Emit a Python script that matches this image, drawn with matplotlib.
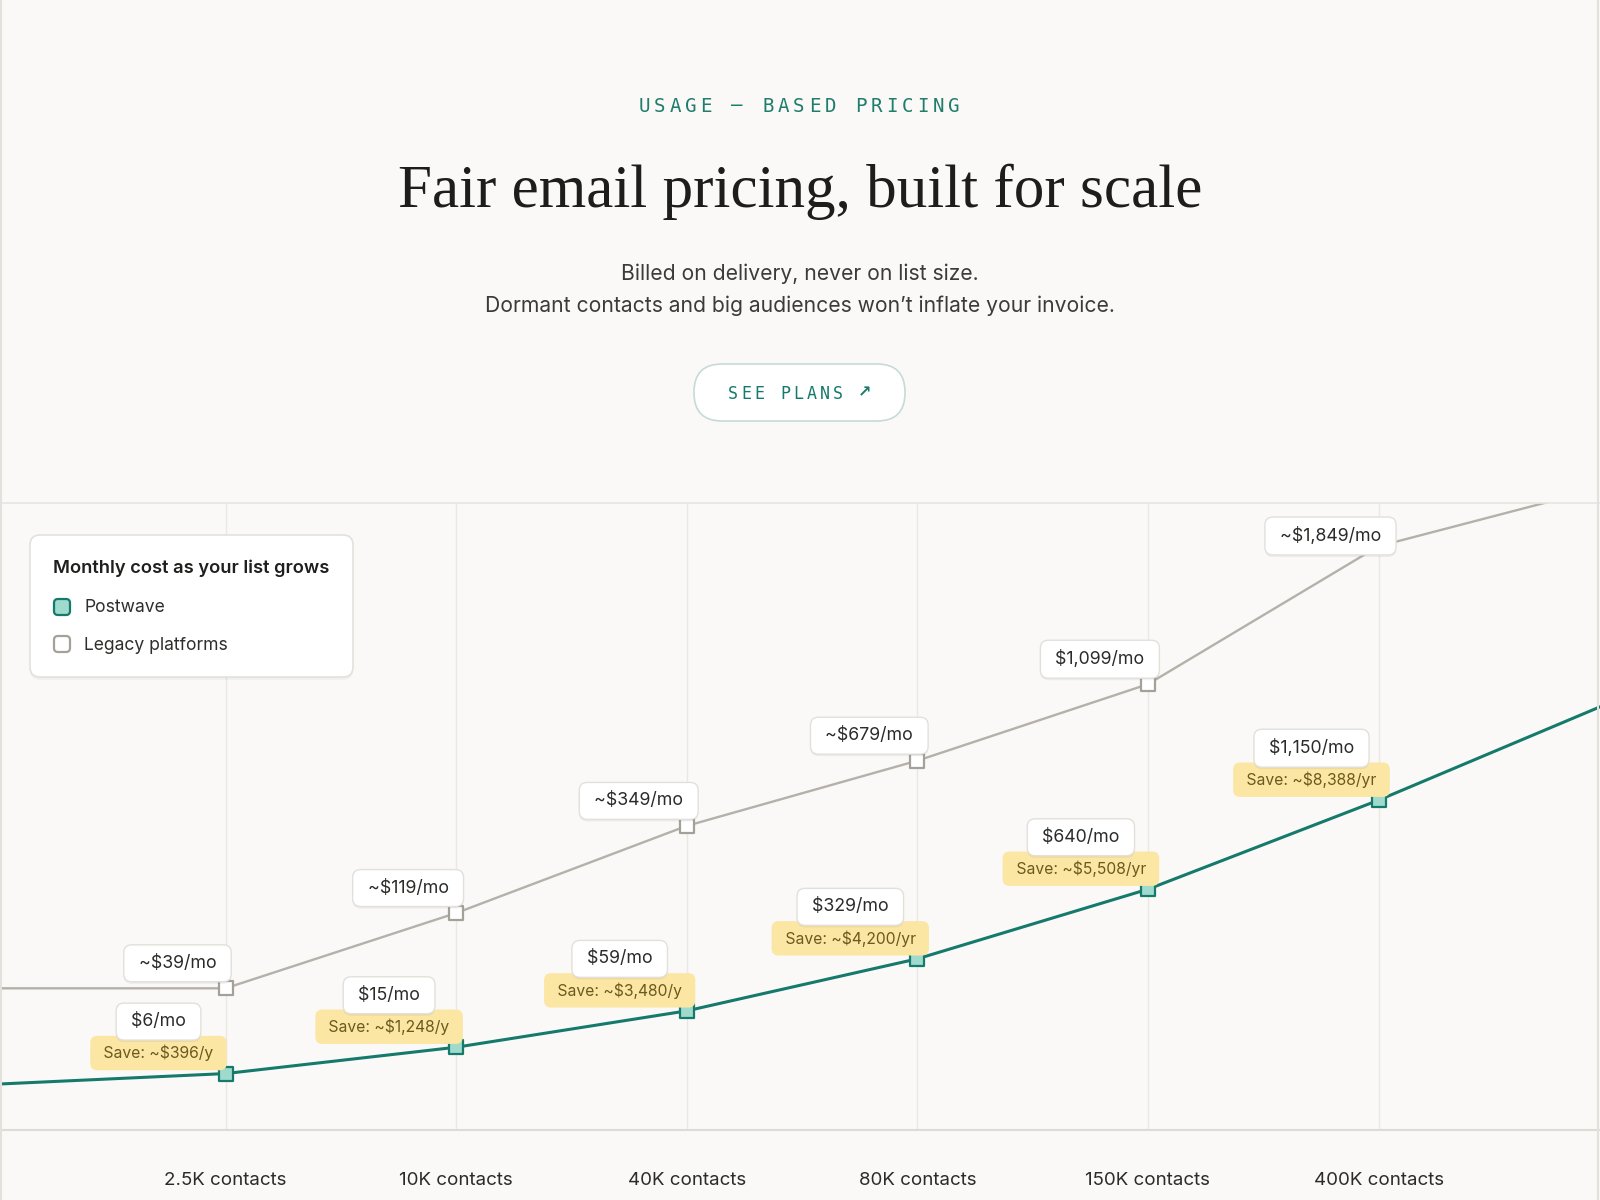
import matplotlib
matplotlib.use("Agg")
import matplotlib.pyplot as plt
import matplotlib.patheffects as pe
from matplotlib.markers import MarkerStyle
from matplotlib.patches import FancyBboxPatch

# contact tiers shown along the bottom
contacts = ["2.5K contacts", "10K contacts", "40K contacts", "80K contacts", "150K contacts", "400K contacts"]

# price callouts
postwave_price = ["$6/mo", "$15/mo", "$59/mo", "$329/mo", "$640/mo", "$1,150/mo"]
postwave_save = ["Save: ~$396/y", "Save: ~$1,248/y", "Save: ~$3,480/y",
                 "Save: ~$4,200/yr", "Save: ~$5,508/yr", "Save: ~$8,388/yr"]
legacy_price = ["~$39/mo", "~$119/mo", "~$349/mo", "~$679/mo", "$1,099/mo", "~$1,849/mo"]

# curve heights as drawn (0 = chart bottom, 100 = chart top), one extra point off each edge
curve_x = [-1, 0, 1, 2, 3, 4, 5, 6]
postwave_level = [7.3, 9.0, 13.2, 19.0, 27.3, 38.4, 52.6, 68.1]
legacy_level = [22.6, 22.6, 34.6, 48.5, 58.9, 71.1, 93.1, 102.7]

W, H = 1600, 1200
BG = "#faf9f7"
TEAL = "#157a6b"
MINT = "#9fdacd"
GRAY_LINE = "#b5b1aa"
GRAY_MARK = "#a4a09a"
SANS = ["Inter", "DejaVu Sans"]
MONO = ["DejaVu Sans Mono", "DejaVu Sans"]

fig = plt.figure(figsize=(16, 12), dpi=100, facecolor=BG)


def fy(y):
    return 1 - y / H


# ---- chart area ----
chart_top, chart_bot = 503, 1130
ax = fig.add_axes([0, fy(chart_bot), 1, (chart_bot - chart_top) / H])
ax.set_facecolor(BG)
x0, step = 225.5, 230.6
ax.set_xlim(-x0 / step, (W - x0) / step)
ax.set_ylim(0, 100)

ax.set_xticks(range(len(contacts)))
ax.set_xticklabels(contacts, fontfamily=SANS, fontsize=13.5, color="#2b2b29")
ax.tick_params(axis="x", length=0, pad=30.5)
ax.set_yticks([])
ax.xaxis.grid(True, color="#ebe8e3", lw=1)
ax.set_axisbelow(True)
for s in ["left", "right"]:
    ax.spines[s].set_visible(False)
ax.spines["top"].set_color("#e8e5e0")
ax.spines["bottom"].set_color("#dedbd5")
ax.spines["top"].set_linewidth(1.2)
ax.spines["bottom"].set_linewidth(1.5)

ax.plot(curve_x, legacy_level, color=GRAY_LINE, lw=1.7, zorder=2, solid_capstyle="butt")
ax.plot(curve_x, postwave_level, color=TEAL, lw=2.2, zorder=3, solid_capstyle="butt")

sq = MarkerStyle("s", joinstyle="round")
idx = list(range(len(contacts)))
ax.plot(idx, legacy_level[1:-1], ls="none", marker=sq, ms=9.5, mfc="white",
        mec=GRAY_MARK, mew=1.6, zorder=4)
ax.plot(idx, postwave_level[1:-1], ls="none", marker=sq, ms=9.5, mfc=MINT,
        mec=TEAL, mew=1.6, zorder=4)

shadow = [pe.withSimplePatchShadow(offset=(0, -1.5), shadow_rgbFace="black", alpha=0.05)]

# limit so the top callout stays inside the chart
top_limit = (H - 518) - 18
for i in idx:
    # legacy price callout
    py = ax.transData.transform((i, legacy_level[i + 1]))[1]
    dy = min(25, top_limit - py)
    t = ax.annotate(" " + legacy_price[i] + " ", (i, legacy_level[i + 1]),
                    xytext=(-48, dy), textcoords="offset pixels",
                    ha="center", va="center", fontsize=12.8, fontfamily=SANS,
                    color="#2b2b2a", zorder=8,
                    bbox=dict(boxstyle="round,pad=0.56,rounding_size=0.45",
                              fc="white", ec="#e3e0db", lw=1))
    t.get_bbox_patch().set_path_effects(shadow)

    # postwave savings + price callout
    ax.annotate(" " + postwave_save[i] + " ", (i, postwave_level[i + 1]),
                xytext=(-67, 20.5), textcoords="offset pixels",
                ha="center", va="center", fontsize=11.3, fontfamily=SANS,
                color="#6b5a1d", zorder=7,
                bbox=dict(boxstyle="round,pad=0.57,rounding_size=0.45",
                          fc="#fbe6a4", ec="none"))
    t = ax.annotate(" " + postwave_price[i] + " ", (i, postwave_level[i + 1]),
                    xytext=(-67, 52), textcoords="offset pixels",
                    ha="center", va="center", fontsize=12.8, fontfamily=SANS,
                    color="#2b2b2a", zorder=8,
                    bbox=dict(boxstyle="round,pad=0.56,rounding_size=0.45",
                              fc="white", ec="#e3e0db", lw=1))
    t.get_bbox_patch().set_path_effects(shadow)

# ---- page overlay in pixel coordinates ----
ov = fig.add_axes([0, 0, 1, 1], zorder=5)
ov.set_xlim(0, W)
ov.set_ylim(H, 0)
ov.axis("off")

# page edges
ov.plot([1, 1], [0, H], color="#e4e1dc", lw=1.5)
ov.plot([W - 2, W - 2], [0, H], color="#e4e1dc", lw=1.5)

# eyebrow with letter spacing
eyebrow = "USAGE – BASED PRICING"
for k, ch in enumerate(eyebrow):
    ov.text(644 + k * 15.5, 106, ch, ha="center", va="center", fontsize=13.8,
            fontfamily=MONO, color="#1f7d6c")

ov.text(800, 207, "Fair email pricing, built for scale", ha="center", va="baseline",
        fontsize=44, fontfamily=["Liberation Serif", "DejaVu Serif"], color="#1d1d1b")

ov.text(800, 274, "Billed on delivery, never on list size.", ha="center", va="center",
        fontsize=15.2, fontfamily=SANS, color="#3b3b39")
ov.text(800, 306, "Dormant contacts and big audiences won’t inflate your invoice.",
        ha="center", va="center", fontsize=15.2, fontfamily=SANS, color="#3b3b39")

# button
btn = FancyBboxPatch((694, 364), 211, 57, boxstyle="round,pad=0,rounding_size=28",
                     fc="white", ec="#c6dbd6", lw=1.2)
ov.add_patch(btn)
for k, ch in enumerate("SEE PLANS"):
    ov.text(733 + k * 13.1, 394, ch, ha="center", va="center", fontsize=12,
            fontfamily=MONO, color=TEAL)
ov.text(865, 393, "↗", ha="center", va="center", fontsize=11.5, fontweight="bold",
        fontfamily=["DejaVu Sans"], color=TEAL)

# legend card
card = FancyBboxPatch((30, 535), 323, 142, boxstyle="round,pad=0,rounding_size=10",
                      fc="white", ec="#e4e1dc", lw=1.2)
card.set_path_effects([pe.withSimplePatchShadow(offset=(0, -2), shadow_rgbFace="black", alpha=0.04)])
ov.add_patch(card)
ov.text(53, 568, "Monthly cost as your list grows", ha="left", va="center",
        fontsize=13.2, fontweight="semibold", fontfamily=SANS, color="#1f1f1e")
ov.add_patch(FancyBboxPatch((54, 599), 16, 16, boxstyle="round,pad=0,rounding_size=4",
                            fc=MINT, ec=TEAL, lw=1.6))
ov.text(84, 608, "Postwave", ha="left", va="center", fontsize=12.6,
        fontfamily=SANS, color="#2e2e2c")
ov.add_patch(FancyBboxPatch((54, 636), 16, 16, boxstyle="round,pad=0,rounding_size=4",
                            fc="white", ec=GRAY_MARK, lw=1.6))
ov.text(84, 645, "Legacy platforms", ha="left", va="center", fontsize=12.6,
        fontfamily=SANS, color="#2e2e2c")

fig.savefig("out.png", dpi=100, facecolor=BG)
